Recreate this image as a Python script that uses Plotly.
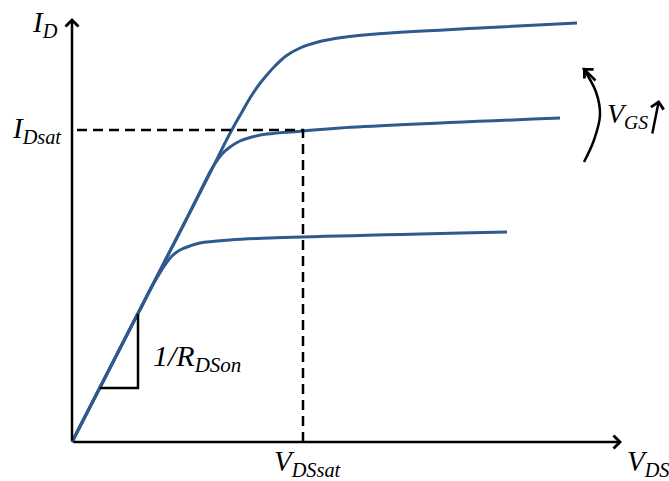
import plotly.graph_objects as go

# ---- data (diagram units: origin at the axes corner) ----
top_x = [0, 60, 110, 140, 154, 162, 170, 178, 186, 194, 203, 214, 228, 246, 270, 310, 408, 505]
top_y = [0, 117, 214, 273, 301, 316, 330, 344, 356, 366, 376, 386, 394, 400, 404.5, 408.5, 414, 419]

mid_x = [0, 60, 100, 118, 128, 138, 144, 150, 158, 168, 180, 195, 231, 268, 488]
mid_y = [0, 117, 195, 230, 250, 270, 280, 288, 295, 301, 305, 308, 311, 314, 324]

bot_x = [0, 40, 62, 72, 78, 86, 93, 100, 108, 118, 128, 158, 198, 435]
bot_y = [0, 78, 121, 140, 152, 166, 177, 186, 192, 196, 199, 202, 204, 210]

VDSSAT = 231
IDSAT = 312

tri_x = [28, 66, 66]
tri_y = [54, 54, 128]

arc_x = [512, 522, 528, 524, 511]
arc_y = [280, 302, 327, 350, 374]

X_MAX = 550
Y_MAX = 424

BLUE = "#2E5A8E"
FONT = "Liberation Serif"

fig = go.Figure()

for xs, ys in [(top_x, top_y), (mid_x, mid_y), (bot_x, bot_y)]:
    fig.add_trace(go.Scatter(x=xs, y=ys, mode="lines",
                             line=dict(color=BLUE, width=3, shape="spline", smoothing=1.0),
                             hoverinfo="skip", showlegend=False))

# dashed saturation guides
fig.add_trace(go.Scatter(x=[5, VDSSAT, VDSSAT], y=[IDSAT, IDSAT, 0], mode="lines",
                         line=dict(color="black", width=2.5, dash="10px,6px"),
                         hoverinfo="skip", showlegend=False))

# slope triangle
fig.add_trace(go.Scatter(x=tri_x, y=tri_y, mode="lines",
                         line=dict(color="black", width=2.5),
                         hoverinfo="skip", showlegend=False))

# V_GS arc
fig.add_trace(go.Scatter(x=arc_x, y=arc_y, mode="lines",
                         line=dict(color="black", width=2.5, shape="spline"),
                         hoverinfo="skip", showlegend=False))

def arrow(x0, y0, x1, y1):
    fig.add_annotation(x=x1, y=y1, ax=x0, ay=y0, xref="x", yref="y",
                       axref="x", ayref="y", showarrow=True, arrowhead=4,
                       arrowsize=1.0, arrowwidth=2.5, arrowcolor="black",
                       standoff=0, startstandoff=0, text="")

arrow(0, 0, 0, Y_MAX)
arrow(0, 0, X_MAX, 0)
arrow(arc_x[-2] + 1, arc_y[-2] + 10, arc_x[-1], arc_y[-1])
arrow(580, 307, 587, 342)

def label(x, y, text, xanchor="center", size=29):
    fig.add_annotation(x=x, y=y, xref="x", yref="y", text=text, showarrow=False,
                       xanchor=xanchor, yanchor="middle",
                       font=dict(family=FONT, size=size, color="black"))

label(-27, 418, "<i>I<sub>D</sub></i>")
label(-8, 312, "<i>I<sub>Dsat</sub></i>", xanchor="right")
label(VDSSAT + 5, -21, "<i>V<sub>DSsat</sub></i>")
label(576, -21, "<i>V<sub>DS</sub></i>")
label(79, 84, "<i>1/R<sub>DSon</sub></i>", xanchor="left", size=30)
label(533, 327, "<i>V<sub>GS</sub></i>", xanchor="left", size=28)

fig.update_layout(
    width=669, height=481,
    margin=dict(l=0, r=0, t=0, b=0),
    paper_bgcolor="white", plot_bgcolor="white",
    xaxis=dict(range=[-72, 597], visible=False, fixedrange=True),
    yaxis=dict(range=[-39, 442], visible=False, fixedrange=True),
    showlegend=False,
)

fig.write_html("out.html", config={"displayModeBar": False},
               post_script="document.body.style.margin='0';document.body.style.overflow='hidden';")
